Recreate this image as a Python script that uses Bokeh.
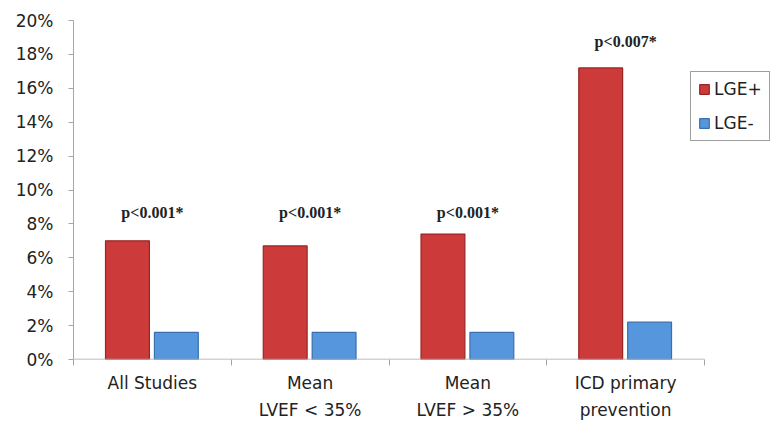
from bokeh.plotting import figure
from bokeh.models import (ColumnDataSource, Range1d, FixedTicker, NumeralTickFormatter,
                          Legend, LegendItem)
from bokeh.core.properties import value
from bokeh.transform import dodge
from bokeh.embed import file_html
from bokeh.resources import INLINE
import numpy as np

categories = ["All Studies", "Mean\nLVEF < 35%", "Mean\nLVEF > 35%", "ICD primary\nprevention"]
lge_pos = [0.070, 0.067, 0.074, 0.172]
lge_neg = [0.016, 0.016, 0.016, 0.022]
p_labels = ["p<0.001*", "p<0.001*", "p<0.001*", "p<0.007*"]
p_label_y = [0.0867, 0.0867, 0.0867, 0.1876]
y_ticks = [0.0, 0.02, 0.04, 0.06, 0.08, 0.10, 0.12, 0.14, 0.16, 0.18, 0.20]

FONT = "DejaVu Sans"
n = len(categories)
xc = np.arange(n) + 0.5
src = ColumnDataSource(dict(xc=xc, pos=lge_pos, neg=lge_neg, lab=p_labels, ly=p_label_y))

AXIS_W = 631          # pixel length of the category axis
FRAME_W = 698         # frame extends to the right so the legend can overlap
FRAME_H = 339
x_end = n * FRAME_W / AXIS_W

p = figure(frame_width=FRAME_W, frame_height=FRAME_H,
           x_range=Range1d(0, x_end), y_range=Range1d(0, 0.20),
           output_backend="svg", toolbar_location=None,
           min_border_left=73, min_border_right=0, min_border_top=20, min_border_bottom=0)
p.outline_line_color = None
p.grid.visible = False
p.background_fill_color = "white"
p.border_fill_color = "white"

r1 = p.vbar(x=dodge("xc", -0.158), top="pos", width=0.278, source=src,
            fill_color="#cc3a3a", line_color="#9a2424", line_width=1.2)
r2 = p.vbar(x=dodge("xc", 0.152), top="neg", width=0.278, source=src,
            fill_color="#5596dc", line_color="#3a6fae", line_width=1.2)

# category axis baseline (only over the categories)
p.segment(x0=[0], y0=[0], x1=[n], y1=[0], line_color="#a6a6a6", line_width=1.5)

p.text(x="xc", y="ly", text="lab", source=src, text_align="center", text_baseline="middle",
       text_font=value("Liberation Serif"), text_font_style="bold", text_font_size="16px",
       text_color="#222222")

# y axis
ya = p.yaxis[0]
ya.ticker = FixedTicker(ticks=y_ticks)
ya.formatter = NumeralTickFormatter(format="0%")
ya.axis_line_color = "#a6a6a6"
ya.major_tick_line_color = "#a6a6a6"
ya.major_tick_out = 5
ya.major_tick_in = 0
ya.minor_tick_line_color = None
ya.major_label_standoff = 15
ya.major_label_text_font = FONT
ya.major_label_text_font_size = "17px"
ya.major_label_text_color = "#222222"

# x axis
xa = p.xaxis[0]
xa.ticker = FixedTicker(ticks=list(xc), minor_ticks=list(range(n + 1)))
xa.major_label_overrides = {float(x): c for x, c in zip(xc, categories)}
xa.axis_line_color = None
xa.major_tick_line_color = None
xa.minor_tick_line_color = "#a6a6a6"
xa.minor_tick_out = 6
xa.minor_tick_in = 0
xa.major_label_standoff = 7
xa.major_label_text_font = FONT
xa.major_label_text_font_size = "17px"
xa.major_label_text_color = "#222222"
xa.major_label_text_line_height = 1.35

legend = Legend(items=[LegendItem(label="LGE+", renderers=[r1]),
                       LegendItem(label="LGE-", renderers=[r2])],
                location=(617, 218), orientation="vertical",
                border_line_color="#404040", border_line_width=1,
                label_text_font=FONT, label_text_font_size="17px", label_text_color="#222222",
                glyph_width=12, glyph_height=12, spacing=14, padding=7, margin=0,
                label_standoff=4, background_fill_alpha=1)
p.add_layout(legend, "center")

open("out.html", "w").write(file_html(p, INLINE))
